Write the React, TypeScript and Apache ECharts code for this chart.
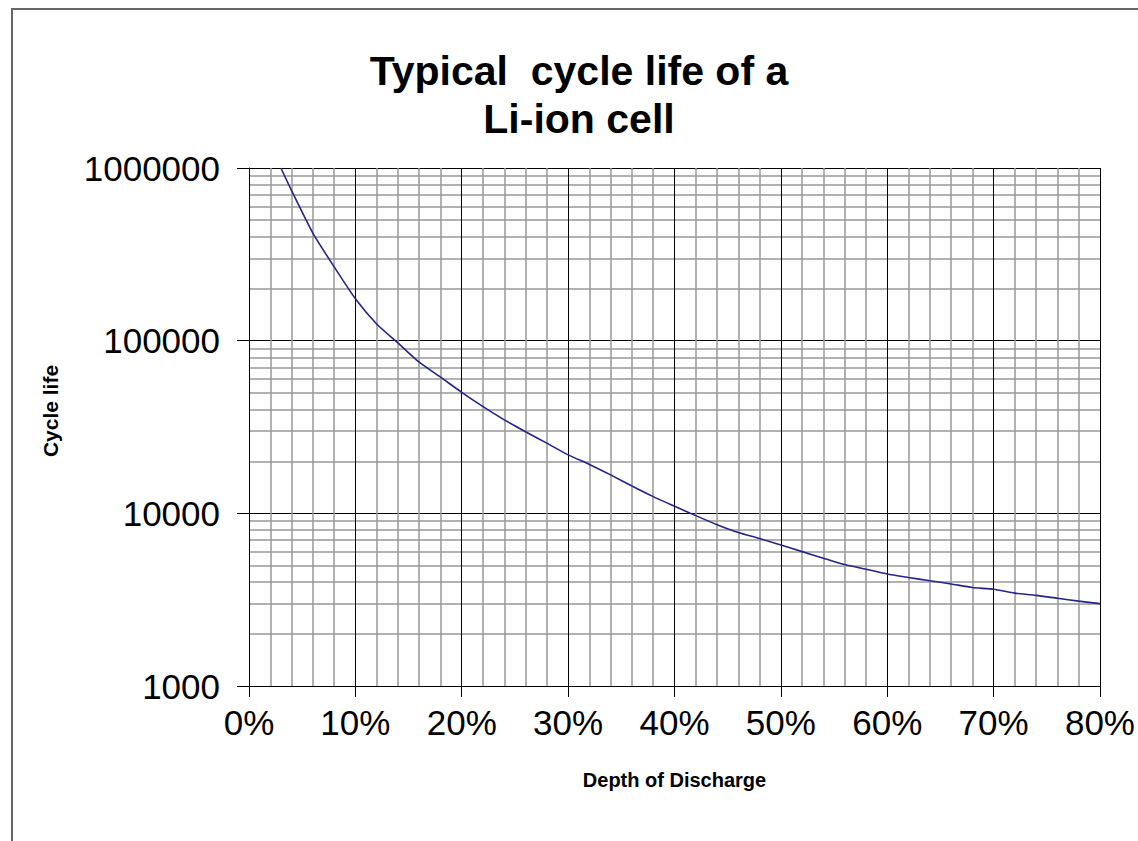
import React, { useEffect, useRef } from "react";
import * as echarts from "echarts";

const titleLines = ["Typical  cycle life of a", "Li-ion cell"];
const xName = "Depth of Discharge";
const yName = "Cycle life";

const depthOfDischarge = [3, 4, 6, 8, 10, 12, 14, 16, 18, 20, 22, 24, 26, 28, 30, 32, 34, 36, 38, 40, 42, 44, 46, 48, 50, 52, 54, 56, 58, 60, 62, 64, 66, 68, 70, 72, 74, 76, 78, 80];
const cycleLife = [1000000, 740000, 420000, 268000, 175000, 125000, 97000, 75000, 61500, 50200, 41500, 34800, 29700, 25500, 21800, 19200, 16700, 14400, 12500, 11000, 9700, 8600, 7750, 7150, 6550, 6000, 5500, 5050, 4750, 4450, 4250, 4070, 3900, 3720, 3630, 3450, 3350, 3220, 3100, 3000];

const FONT = "'Liberation Sans', Arial, sans-serif";

export default function App() {
  const ref = useRef<HTMLDivElement>(null);
  useEffect(() => {
    if (!ref.current) return;
    const chart = echarts.init(ref.current, null, { renderer: "svg" });
    const data = depthOfDischarge.map((x, i) => [x, cycleLife[i]]);
    chart.setOption({
      animation: false,
      backgroundColor: "#ffffff",
      title: {
        text: titleLines.join("\n"),
        left: 574,
        top: 42,
        textAlign: "center",
        textStyle: { fontFamily: FONT, fontWeight: "bold", fontSize: 41, lineHeight: 48, color: "#000" },
      },
      graphic: [
        {
          type: "rect",
          shape: { x: 12, y: 9, width: 1200, height: 900 },
          style: { fill: "none", stroke: "#666666", lineWidth: 2 },
          silent: true,
          z: 100,
        },
      ],
      grid: { left: 249, top: 168, right: 37, bottom: 155, containLabel: false },
      xAxis: {
        type: "value",
        min: 0,
        max: 80,
        interval: 10,
        name: xName,
        nameLocation: "middle",
        nameGap: 84,
        nameTextStyle: { fontFamily: FONT, fontWeight: "bold", fontSize: 20, color: "#000" },
        axisLine: { show: true, lineStyle: { color: "#000", width: 1 } },
        axisTick: { show: true, length: 11, lineStyle: { color: "#000" } },
        axisLabel: { formatter: (v: number) => `${v}%`, fontFamily: FONT, fontSize: 35, color: "#000", margin: 19 },
        splitLine: { show: true, lineStyle: { color: "#000", width: 1 } },
        minorTick: { show: false, splitNumber: 5 },
        minorSplitLine: { show: true, lineStyle: { color: "#999999", width: 1.5 } },
      },
      yAxis: {
        type: "log",
        logBase: 10,
        min: 1000,
        max: 1000000,
        name: yName,
        nameLocation: "middle",
        nameGap: 188,
        nameRotate: 90,
        nameTextStyle: { fontFamily: FONT, fontWeight: "bold", fontSize: 21, color: "#000", padding: [0, 0, 0, 32] },
        axisLine: { show: true, lineStyle: { color: "#000", width: 1 } },
        axisTick: { show: true, length: 12, lineStyle: { color: "#000" } },
        axisLabel: { formatter: (v: number) => String(Math.round(v)), fontFamily: FONT, fontSize: 35, color: "#000", margin: 29 },
        splitLine: { show: true, lineStyle: { color: "#000", width: 1 } },
        minorTick: { show: false, splitNumber: 9 },
        minorSplitLine: { show: true, lineStyle: { color: "#999999", width: 1.5 } },
      },
      series: [
        {
          type: "line",
          data,
          showSymbol: false,
          smooth: 0.2,
          lineStyle: { color: "#24248c", width: 1.6 },
          z: 10,
        },
      ],
    });
    return () => chart.dispose();
  }, []);
  return (
    <div
      ref={ref}
      style={{ position: "fixed", left: 0, top: 0, width: 1138, height: 841 }}
    />
  );
}
